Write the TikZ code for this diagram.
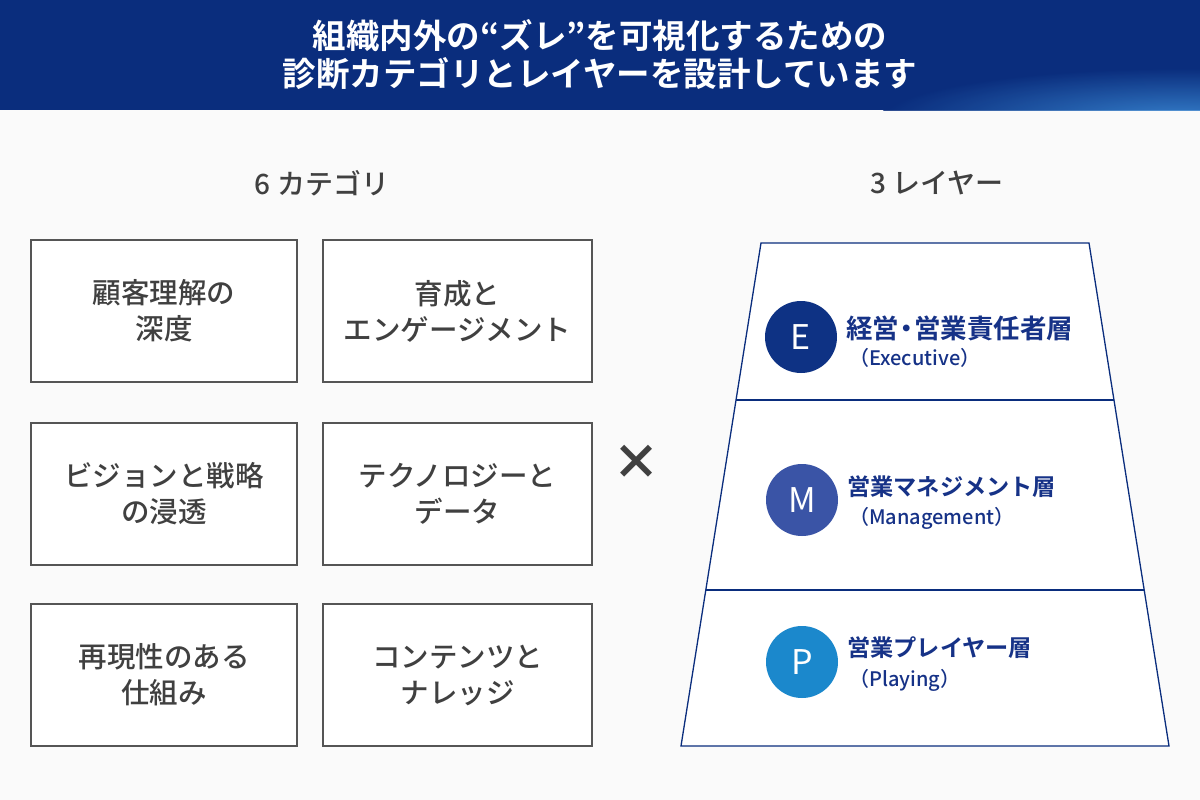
\documentclass[tikz,border=0pt]{standalone}
\usepackage{fontspec}
\usetikzlibrary{calc}
\setmainfont{Noto Sans CJK JP}
\newfontfamily\jpb{Noto Sans CJK JP Bold}
\newfontfamily\jpm{Noto Sans CJK JP Medium}
\definecolor{bgc}{RGB}{250,250,250}
\definecolor{navy}{RGB}{10,45,125}
\definecolor{glow}{RGB}{60,140,215}
\definecolor{txtgray}{RGB}{64,64,64}
\definecolor{boxline}{RGB}{85,85,85}
\definecolor{laytxt}{RGB}{22,50,135}
\definecolor{cE}{RGB}{14,50,132}
\definecolor{cM}{RGB}{58,84,166}
\definecolor{cP}{RGB}{27,136,204}
\tikzset{
  catbox/.style={draw=boxline, line width=1.5pt, fill=white, minimum width=266pt, minimum height=142pt, inner sep=0pt, align=center, text=txtgray, font=\jpm\fontsize{28.5}{36}\selectfont},
  heading/.style={text=txtgray, font=\jpm\fontsize{28}{30}\selectfont},
  badge/.style={circle, minimum size=72pt, inner sep=0pt, text=white, font=\fontsize{34}{34}\selectfont},
  laymain/.style={anchor=west, text=laytxt, font=\jpb\fontsize{23.2}{28}\selectfont, inner sep=0pt},
  laysub/.style={anchor=west, text=laytxt, font=\jpm\fontsize{20}{22}\selectfont, inner sep=0pt},
  layline/.style={draw=navy, line width=1.3pt}
}
\begin{document}
\begin{tikzpicture}[x=1pt,y=-1pt]
\useasboundingbox (0,0) rectangle (1200,800);
\fill[bgc] (0,0) rectangle (1200,800);
% header
\begin{scope}
\clip (0,0) rectangle (1200,110);
\fill[navy] (0,0) rectangle (1200,110);
\shade[inner color=glow, outer color=navy, opacity=0.85] (1180,118) ellipse (300pt and 50pt);
\end{scope}
\node[text=white, align=center, font=\jpb\fontsize{33.5}{38}\selectfont] (title) at (600,55)
  {組織内外の“ズレ”を可視化するための\\診断カテゴリとレイヤーを設計しています};
% headings
\node[heading] (h6) at (322,183) {6 カテゴリ};
\node[heading] (h3) at (937,183) {3 レイヤー};
% category boxes
\node[catbox] (c1) at (164,311) {顧客理解の\\深度};
\node[catbox, minimum width=269pt] (c2) at (457.5,311) {育成と\\エンゲージメント};
\node[catbox] (c3) at (164,494) {ビジョンと戦略\\の浸透};
\node[catbox, minimum width=269pt] (c4) at (457.5,494) {テクノロジーと\\データ};
\node[catbox] (c5) at (164,675) {再現性のある\\仕組み};
\node[catbox, minimum width=269pt] (c6) at (457.5,675) {コンテンツと\\ナレッジ};
% cross
\node[text=txtgray, font=\fontsize{48}{48}\selectfont\bfseries] (x) at (636,462) {×};
% trapezoid
\coordinate (tl) at (761,243);
\coordinate (tr) at (1089,243);
\coordinate (bl) at (681,746);
\coordinate (br) at (1169,746);
\fill[white] (tl) -- (tr) -- (br) -- (bl) -- cycle;
\draw[layline] (tl) -- (tr) -- (br) -- (bl) -- cycle;
\coordinate (d1l) at ($(tl)!{157/503}!(bl)$);
\coordinate (d1r) at ($(tr)!{157/503}!(br)$);
\coordinate (d2l) at ($(tl)!{347/503}!(bl)$);
\coordinate (d2r) at ($(tr)!{347/503}!(br)$);
\draw[layline] (d1l) -- (d1r);
\draw[layline] (d2l) -- (d2r);
% layers
\node[badge, fill=cE] (bE) at (801,337) {E};
\node[laymain, font=\jpb\fontsize{26.5}{28}\selectfont] (tE) at (846,328) {経営\kern-0.22em・\kern-0.22em営業責任者層};
\node[laysub] (sE) at (849,358) {（Executive）};
\node[badge, fill=cM] (bM) at (802,500) {M};
\node[laymain] (tM) at (847,487) {営業マネジメント層};
\node[laysub] (sM) at (849,518) {（Management）};
\node[badge, fill=cP] (bP) at (802,662) {P};
\node[laymain] (tP) at (847,648) {営業プレイヤー層};
\node[laysub] (sP) at (849,680) {（Playing）};
\end{tikzpicture}
\end{document}
